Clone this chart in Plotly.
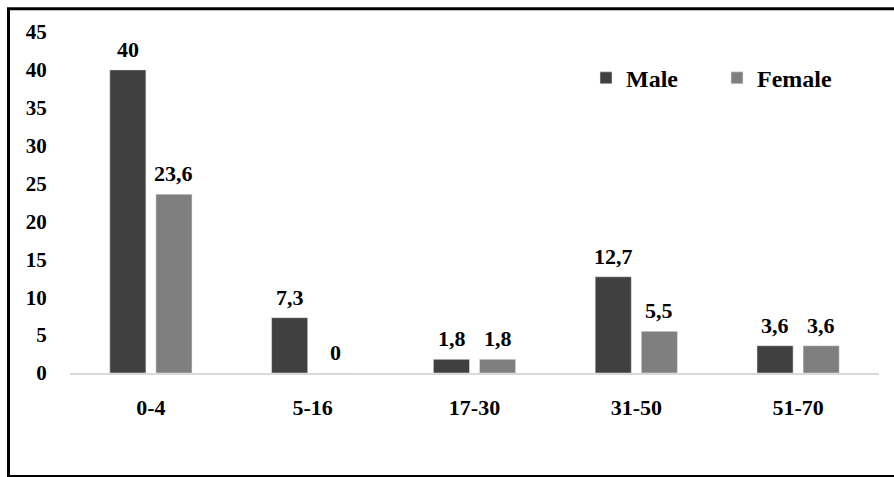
import plotly.graph_objects as go

categories = ["0-4", "5-16", "17-30", "31-50", "51-70"]
male = [40, 7.3, 1.8, 12.7, 3.6]
female = [23.6, 0, 1.8, 5.5, 3.6]
male_labels = ["40", "7,3", "1,8", "12,7", "3,6"]
female_labels = ["23,6", "0", "1,8", "5,5", "3,6"]
y_ticks = [0, 5, 10, 15, 20, 25, 30, 35, 40, 45]

FONT = "'Liberation Serif', 'Times New Roman', 'DejaVu Serif', serif"
MALE_C = "#404040"
FEMALE_C = "#7f7f7f"

fig = go.Figure()
fig.add_trace(go.Bar(x=categories, y=male, name="Male", marker_color=MALE_C))
fig.add_trace(go.Bar(x=categories, y=female, name="Female", marker_color=FEMALE_C))

annotations = []
for c, v, t in zip(categories, male, male_labels):
    annotations.append(dict(x=c, y=v, text=t, showarrow=False, xshift=-23,
                            yanchor="bottom", yshift=6,
                            font=dict(family=FONT, size=22, color="black", weight="bold")))
for c, v, t in zip(categories, female, female_labels):
    annotations.append(dict(x=c, y=v, text=t, showarrow=False, xshift=23,
                            yanchor="bottom", yshift=6,
                            font=dict(family=FONT, size=22, color="black", weight="bold")))

# Frame (left, top, bottom) in paper coordinates
L, R, T, B = 70, 879, 31.7, 373
W = R - L
H = B - T
def px(x):
    return (x - L) / W
def py(y):
    return (B - y) / H

shapes = [
    dict(type="line", xref="paper", yref="paper", x0=px(8.5), x1=px(8.5), y0=py(8.5), y1=py(476), line=dict(color="black", width=3)),
    dict(type="line", xref="paper", yref="paper", x0=px(7), x1=px(900), y0=py(8.5), y1=py(8.5), line=dict(color="black", width=3)),
    dict(type="line", xref="paper", yref="paper", x0=px(7), x1=px(900), y0=py(476), y1=py(476), line=dict(color="black", width=2)),
]

fig.update_layout(
    width=894, height=477,
    margin=dict(l=L, r=894 - R, t=T, b=477 - B),
    paper_bgcolor="white", plot_bgcolor="white",
    barmode="group", bargap=0.43, bargroupgap=0.217,
    font=dict(family=FONT, size=21, color="black", weight="bold"),
    showlegend=True,
    legend=dict(orientation="h", x=px(586), y=py(78), xanchor="left", yanchor="middle",
                font=dict(family=FONT, size=24, color="black", weight="bold"),
                bgcolor="rgba(0,0,0,0)", itemwidth=30,
                entrywidth=86, entrywidthmode="pixels"),
    annotations=annotations,
    shapes=shapes,
)
fig.update_xaxes(showline=True, linecolor="#d9d9d9", linewidth=1.5, showgrid=False,
                 ticks="outside", ticklen=14, tickcolor="rgba(0,0,0,0)",
                 tickfont=dict(family=FONT, size=22, color="black", weight="bold"))
fig.update_yaxes(range=[0, 45], tickvals=y_ticks, showline=False, showgrid=False, zeroline=False,
                 ticks="outside", ticklen=18, tickcolor="rgba(0,0,0,0)",
                 tickfont=dict(family=FONT, size=21, color="black", weight="bold"))

fig.write_html("out.html")
